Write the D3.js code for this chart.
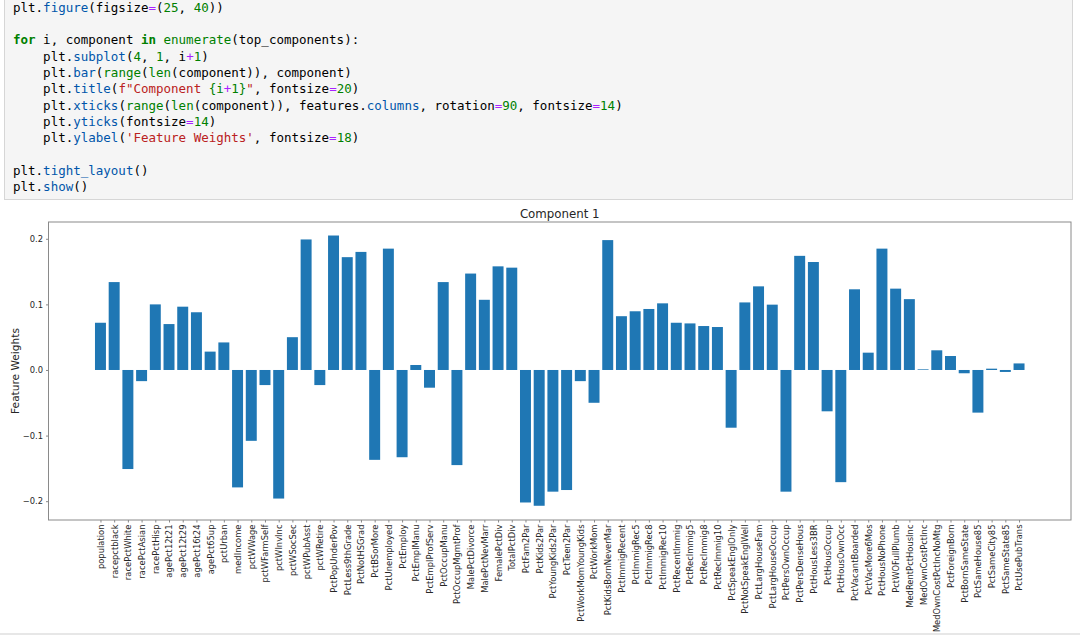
<!DOCTYPE html>
<html>
<head>
<meta charset="utf-8">
<script src="https://cdn.jsdelivr.net/npm/d3@7"></script>
<style>
  body { margin: 0; background: #fff; }
  svg { display: block; }
  .code text { font-family: "DejaVu Sans Mono", monospace; font-size: 12.5px; white-space: pre; }
  .kw { fill: #008000; font-weight: bold; }
  .bi { fill: #008000; }
  .nu { fill: #008000; }
  .op { fill: #AA22FF; }
  .st { fill: #BA2121; }
  .pr { fill: #0055AA; }
  .tx { fill: #000; }
  .chart text { font-family: "DejaVu Sans", sans-serif; fill: #262626; }
</style>
</head>
<body>
<svg id="fig" width="1080" height="635"></svg>
<script>
// ---- data ----
const features = ["population","racepctblack","racePctWhite","racePctAsian","racePctHisp","agePct12t21","agePct12t29","agePct16t24","agePct65up","pctUrban","medIncome","pctWWage","pctWFarmSelf","pctWInvInc","pctWSocSec","pctWPubAsst","pctWRetire","PctPopUnderPov","PctLess9thGrade","PctNotHSGrad","PctBSorMore","PctUnemployed","PctEmploy","PctEmplManu","PctEmplProfServ","PctOccupManu","PctOccupMgmtProf","MalePctDivorce","MalePctNevMarr","FemalePctDiv","TotalPctDiv","PctFam2Par","PctKids2Par","PctYoungKids2Par","PctTeen2Par","PctWorkMomYoungKids","PctWorkMom","PctKidsBornNeverMar","PctImmigRecent","PctImmigRec5","PctImmigRec8","PctImmigRec10","PctRecentImmig","PctRecImmig5","PctRecImmig8","PctRecImmig10","PctSpeakEnglOnly","PctNotSpeakEnglWell","PctLargHouseFam","PctLargHouseOccup","PctPersOwnOccup","PctPersDenseHous","PctHousLess3BR","PctHousOccup","PctHousOwnOcc","PctVacantBoarded","PctVacMore6Mos","PctHousNoPhone","PctWOFullPlumb","MedRentPctHousInc","MedOwnCostPctInc","MedOwnCostPctIncNoMtg","PctForeignBorn","PctBornSameState","PctSameHouse85","PctSameCity85","PctSameState85","PctUsePubTrans"];
const weights = [0.072,0.134,-0.151,-0.017,0.100,0.070,0.0965,0.088,0.028,0.042,-0.179,-0.108,-0.023,-0.196,0.050,0.199,-0.023,0.205,0.172,0.180,-0.137,0.185,-0.133,0.0076,-0.027,0.134,-0.145,0.147,0.107,0.158,0.156,-0.202,-0.207,-0.1855,-0.183,-0.017,-0.050,0.198,0.082,0.0895,0.093,0.1016,0.072,0.071,0.067,0.0655,-0.088,0.103,0.1275,0.0996,-0.1855,0.174,0.1646,-0.063,-0.171,0.123,0.0264,0.185,0.124,0.108,0.001,0.030,0.0213,-0.005,-0.065,0.002,-0.003,0.010];
const yTicks = [-0.2,-0.1,0.0,0.1,0.2];
const chartTitle = "Component 1";
const yLabel = "Feature Weights";

// code cell tokens: [text, class]
const codeLines = [
  [["plt.","tx"],["figure","pr"],["(figsize","tx"],["=","op"],["(","tx"],["25","nu"],[", ","tx"],["40","nu"],["))","tx"]],
  [],
  [["for","kw"],[" i, component ","tx"],["in","kw"],[" ","tx"],["enumerate","bi"],["(top_components):","tx"]],
  [["    plt.","tx"],["subplot","pr"],["(","tx"],["4","nu"],[", ","tx"],["1","nu"],[", i","tx"],["+","op"],["1","nu"],[")","tx"]],
  [["    plt.","tx"],["bar","pr"],["(","tx"],["range","bi"],["(","tx"],["len","bi"],["(component)), component)","tx"]],
  [["    plt.","tx"],["title","pr"],["(","tx"],["f\"Component ","st"],["{i","nu"],["+","op"],["1}","nu"],["\"","st"],[", fontsize","tx"],["=","op"],["20","nu"],[")","tx"]],
  [["    plt.","tx"],["xticks","pr"],["(","tx"],["range","bi"],["(","tx"],["len","bi"],["(component)), features.","tx"],["columns","pr"],[", rotation","tx"],["=","op"],["90","nu"],[", fontsize","tx"],["=","op"],["14","nu"],[")","tx"]],
  [["    plt.","tx"],["yticks","pr"],["(fontsize","tx"],["=","op"],["14","nu"],[")","tx"]],
  [["    plt.","tx"],["ylabel","pr"],["(","tx"],["'Feature Weights'","st"],[", fontsize","tx"],["=","op"],["18","nu"],[")","tx"]],
  [],
  [["plt.","tx"],["tight_layout","pr"],["()","tx"]],
  [["plt.","tx"],["show","pr"],["()","tx"]]
];

const svg = d3.select("#fig");

// ---- code cell ----
const code = svg.append("g").attr("class","code");
code.append("rect").attr("x",4.5).attr("y",-1).attr("width",1068).attr("height",200.5)
  .attr("fill","#f5f5f5").attr("stroke","#d6d6d6");
const lineY = d3.scaleLinear().domain([0,1]).range([11.8, 28.1]);
codeLines.forEach((toks,i)=>{
  const t = code.append("text").attr("x",13).attr("y",lineY(i)).attr("xml:space","preserve");
  toks.forEach(([s,c])=>t.append("tspan").attr("class",c).text(s));
});

// ---- chart ----
const chart = svg.append("g").attr("class","chart");
const L = 48.5, R = 1071, T = 222, B = 520;
const n = features.length;
const x = d3.scaleLinear().domain([-3.79, n - 1 + 3.79]).range([L, R]);
const y = d3.scaleLinear().domain([-0.2287, 0.2256]).range([B, T]);
const bw = x(0.8) - x(0);

chart.append("g").selectAll("rect").data(weights).join("rect")
  .attr("x",(d,i)=>x(i-0.4))
  .attr("width",bw)
  .attr("y",d=>y(Math.max(0,d)))
  .attr("height",d=>Math.max(0.6, Math.abs(y(d)-y(0))))
  .attr("fill","#1f77b4");

// axes
const xAxis = d3.axisBottom(x).tickValues(d3.range(n)).tickFormat(i=>features[i]).tickSize(2.5).tickPadding(2);
const gx = chart.append("g").attr("transform",`translate(0,${B})`).call(xAxis);
gx.select(".domain").remove();
gx.selectAll(".tick line").attr("stroke","#555").attr("stroke-width",0.7);
gx.selectAll(".tick text")
  .attr("transform","rotate(-90)")
  .attr("text-anchor","end")
  .attr("x",-4.5).attr("y",0).attr("dy","0.35em")
  .attr("font-size","8.4px").attr("fill","#262626");

const yAxis = d3.axisLeft(y).tickValues(yTicks).tickFormat(d=>d3.format(".1f")(d).replace("-","\u2212")).tickSize(2.5).tickPadding(3);
const gy = chart.append("g").attr("transform",`translate(${L},0)`).call(yAxis);
gy.select(".domain").remove();
gy.selectAll(".tick line").attr("stroke","#555").attr("stroke-width",0.7);
gy.selectAll(".tick text").attr("font-size","8.4px").attr("fill","#262626");

chart.append("rect").attr("x",L).attr("y",T).attr("width",R-L).attr("height",B-T)
  .attr("fill","none").attr("stroke","#8a8a8a").attr("stroke-width",1);

chart.append("text").attr("x",(L+R)/2).attr("y",T-4).attr("text-anchor","middle")
  .attr("font-size","11.8px").text(chartTitle);

chart.append("text").attr("transform",`translate(19,${(T+B)/2}) rotate(-90)`)
  .attr("text-anchor","middle").attr("font-size","10.6px").text(yLabel);

svg.append("line").attr("x1",0).attr("x2",1080).attr("y1",634).attr("y2",634)
  .attr("stroke","#cfcfcf");
</script>
</body>
</html>
